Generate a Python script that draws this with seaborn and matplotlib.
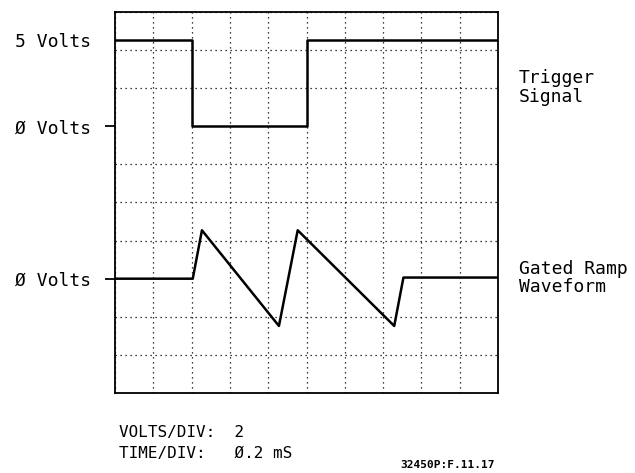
import matplotlib
matplotlib.use("Agg")
import matplotlib.pyplot as plt
import seaborn as sns
import numpy as np

# ── Data (screen divisions, 10 x 10 graticule, origin bottom-left) ────────────
trigger_t = [0, 2.0, 2.0, 5.0, 5.0, 10]
trigger_v = [9.27, 9.27, 7.0, 7.0, 9.27, 9.27]

ramp_t = [0, 2.03, 2.27, 4.28, 4.77, 7.29, 7.53, 10]
ramp_v = [3.0, 3.0, 4.27, 1.76, 4.27, 1.76, 3.03, 3.03]

ylabel_pos = [9.27, 7.0, 3.0]
ylabel_txt = ["5 Volts", "Ø Volts", "Ø Volts"]

trace_names = ["Trigger\nSignal", "Gated Ramp\nWaveform"]
trace_label_y = [8.5, 3.5]

settings_txt = "VOLTS/DIV:  2\nTIME/DIV:   Ø.2 mS"
fig_code = "32450P:F.11.17"

# ── Figure ────────────────────────────────────────────────────────────────────
sns.set_style("white")
plt.rcParams["font.family"] = ["DejaVu Sans Mono", "DejaVu Sans"]
plt.rcParams["text.color"] = "black"
plt.rcParams["ytick.color"] = "black"
plt.rcParams["ytick.labelcolor"] = "black"

fig = plt.figure(figsize=(6.35, 4.73), dpi=100)
ax = fig.add_axes([0.1811, 0.169, 0.6032, 0.806])

sns.lineplot(x=trigger_t, y=trigger_v, sort=False, estimator=None,
             color="black", linewidth=1.8, ax=ax)
sns.lineplot(x=ramp_t, y=ramp_v, sort=False, estimator=None,
             color="black", linewidth=1.8, ax=ax)

ax.set_xlim(0, 10)
ax.set_ylim(0, 10)

# graticule on minor ticks
ax.set_xticks(np.arange(0, 11, 1), minor=True)
ax.set_yticks(np.arange(0, 11, 1), minor=True)
ax.grid(which="minor", color="black", linestyle=(0, (1, 3)), linewidth=0.9)
ax.tick_params(which="minor", length=0)

ax.set_xticks([])
ax.set_yticks(ylabel_pos, ylabel_txt)
ax.tick_params(axis="y", which="major", left=True, length=7, width=1.3,
               pad=10, labelsize=13, color="black", labelcolor="black")
ax.yaxis.get_major_ticks()[0].tick1line.set_visible(False)

for s in ax.spines.values():
    s.set_color("black")
    s.set_linewidth(1.3)

for name, yy in zip(trace_names, trace_label_y):
    ax.text(10.55, yy, name, fontsize=13, va="top", ha="left",
            linespacing=1.05, clip_on=False, color="black")

fig.text(0.187, 0.101, settings_txt, fontsize=11.5, va="top",
         ha="left", linespacing=1.45, color="black")
fig.text(0.63, 0.016, fig_code, fontsize=8, fontweight="bold",
         va="center", ha="left", color="black")

plt.savefig("out.png", dpi=100)
plt.close()
